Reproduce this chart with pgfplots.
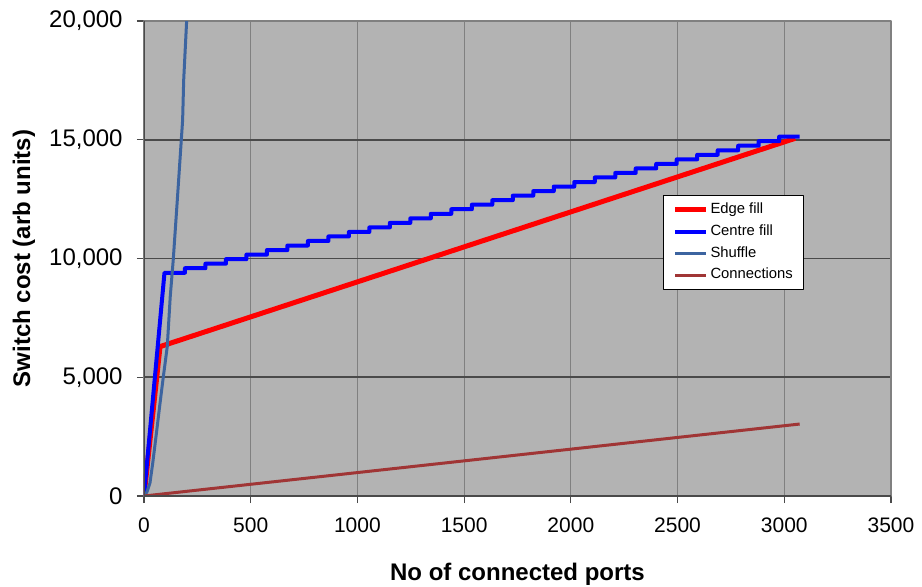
\documentclass[border=0pt]{standalone}
\usepackage{pgfplots}
\pgfplotsset{compat=1.18}
\usepackage{fontspec}
\setmainfont{Liberation Sans}
\definecolor{bgc}{HTML}{B3B3B3}
\definecolor{hgrid}{HTML}{4A4A4A}
\definecolor{vgrid}{HTML}{808080}
\definecolor{edgec}{HTML}{FF0000}
\definecolor{centrec}{HTML}{0000FF}
\definecolor{shufc}{HTML}{3C64A0}
\definecolor{connc}{HTML}{A03535}
\begin{document}
\begin{tikzpicture}
\begin{axis}[
  name=ax,
  scale only axis, width=373.5bp, height=237.5bp,
  xmin=0, xmax=3500, ymin=0, ymax=20000,
  xtick={0,500,...,3500}, ytick={0,5000,...,20000},
  scaled ticks=false,
  axis background/.style={fill=bgc},
  xmajorgrids, ymajorgrids,
  x grid style={color=vgrid, line width=0.5bp},
  y grid style={color=hgrid, line width=0.8bp},
  axis line style={color=vgrid, line width=0.6bp},
  tick align=outside, tick pos=left,
  major tick length=3.5bp,
  tick style={color=hgrid, line width=0.6bp},
  /pgf/number format/assume math mode=true,
  yticklabel style={font=\fontsize{12bp}{14bp}\selectfont, /pgf/number format/fixed, /pgf/number format/1000 sep={,}, anchor=east, inner sep=0pt, xshift=-7bp},
  xticklabel style={font=\fontsize{10.5bp}{12bp}\selectfont, /pgf/number format/fixed, /pgf/number format/1000 sep={}, anchor=north, inner sep=0pt, yshift=-7bp},
  xlabel={No of connected ports},
  ylabel={Switch cost (arb units)},
  xlabel style={font=\bfseries\fontsize{12bp}{14bp}\selectfont, at={(axis description cs:0.5,0)}, anchor=base, yshift=-42bp},
  ylabel style={font=\bfseries\fontsize{12bp}{14bp}\selectfont, at={([xshift=-60bp]axis description cs:0,0.5)}, anchor=center},
  legend style={at={(axis description cs:0.6948,0.6337)}, anchor=north west, draw=black, line width=0.5bp, fill=white,
    font=\fontsize{7.4bp}{9bp}\selectfont, inner xsep=4.5bp, inner ysep=1.8bp, row sep=0pt,
    nodes={inner xsep=1bp, inner ysep=2bp}},
  legend cell align=left,
  legend image code/.code={\draw[#1] (0bp,0bp) -- (15.5bp,0bp);},
  line join=round,
]
\addplot[edgec, line width=2.5bp] coordinates {(0,0) (75,6290) (3051,15060)};
\addlegendentry{Edge fill}
\addplot[centrec, line width=2bp] coordinates {
(0,0) (96,9400) (192,9400) (192,9591) (288,9591) (288,9782) (384,9782) (384,9973) (480,9973)
(480,10164) (576,10164) (576,10355) (672,10355) (672,10546) (768,10546) (768,10737) (864,10737)
(864,10928) (960,10928) (960,11119) (1056,11119) (1056,11310) (1152,11310) (1152,11501) (1248,11501)
(1248,11692) (1344,11692) (1344,11883) (1440,11883) (1440,12074) (1536,12074) (1536,12265) (1632,12265)
(1632,12456) (1728,12456) (1728,12647) (1824,12647) (1824,12838) (1920,12838) (1920,13029) (2016,13029)
(2016,13220) (2112,13220) (2112,13411) (2208,13411) (2208,13602) (2304,13602) (2304,13793) (2400,13793)
(2400,13984) (2496,13984) (2496,14175) (2592,14175) (2592,14366) (2688,14366) (2688,14557) (2784,14557)
(2784,14748) (2880,14748) (2880,14939) (2976,14939) (2976,15130) (3072,15130)};
\addlegendentry{Centre fill}
\addplot[shufc, line width=1.5bp] coordinates {
(0,0) (14,170) (28,550) (41,1390) (60,2780) (75,3900) (90,4980) (109,6290) (123,8400) (137,9940) (155,12320) (181,15830) (186,17520) (200,20040)};
\addlegendentry{Shuffle}
\addplot[connc, line width=1.5bp] coordinates {(0,0) (3072,3030)};
\addlegendentry{Connections}
\draw[color=hgrid, line width=0.8bp] (axis description cs:0,0) -- (axis description cs:0,1);
\draw[color=hgrid, line width=0.8bp] (axis description cs:0,0) -- (axis description cs:1,0);
\end{axis}
\pgfresetboundingbox
\useasboundingbox ([shift={(-72bp,-45.5bp)}]ax.south west) rectangle ([shift={(15.5bp,10.5bp)}]ax.north east);
\end{tikzpicture}
\end{document}
